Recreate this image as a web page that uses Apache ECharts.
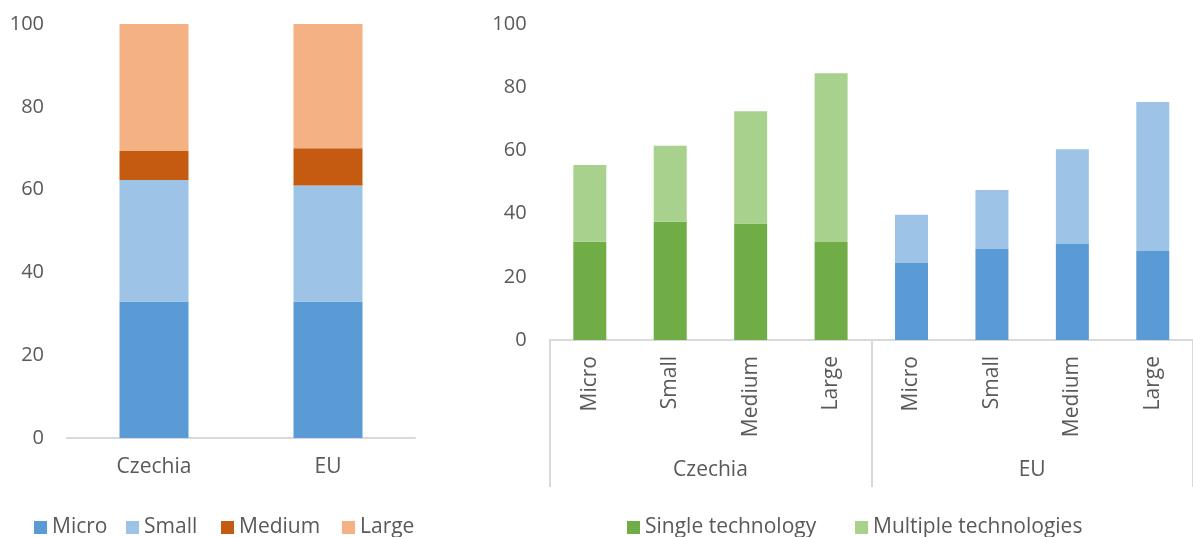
<!DOCTYPE html>
<html>
<head>
<meta charset="utf-8">
<script src="https://cdn.jsdelivr.net/npm/echarts@6/dist/echarts.min.js"></script>
<style>
  html, body { margin: 0; padding: 0; background: #fff; }
  #chart { width: 1193px; height: 537px; }
</style>
</head>
<body>
<div id="chart"></div>
<script>
// Left panel: share of enterprises by size class (stacked to 100)
const regions = ['Czechia', 'EU'];
const microShare = [33, 33];
const smallShare = [29.3, 28];
const mediumShare = [7, 9];
const largeShare = [30.7, 30];

// Right panel: adoption by size class, single vs multiple technologies
const sizeClasses = ['Micro', 'Small', 'Medium', 'Large'];
const czSingle = [31.1, 37.4, 36.9, 31.0];
const czMultiple = [24.3, 24.1, 35.5, 53.4];
const euSingle = [24.4, 28.8, 30.4, 28.2];
const euMultiple = [15.2, 18.7, 30.0, 47.1];

const yTicks = [0, 20, 40, 60, 80, 100];

const FONT = '"Open Sans", sans-serif';
const TXT = '#595959';
const AXIS = '#d9d9d9';
const LABEL_SIZE = 21;

const C = {
  micro: '#5b9bd5', small: '#9dc3e6', medium: '#c55a11', large: '#f4b183',
  single: '#70ad47', multiple: '#a9d18e'
};

const rightCats = sizeClasses.concat(sizeClasses);
const rightSingle = czSingle.map(v => ({ value: v }))
  .concat(euSingle.map(v => ({ value: v, itemStyle: { color: C.micro } })));
const rightMultiple = czMultiple.map(v => ({ value: v }))
  .concat(euMultiple.map(v => ({ value: v, itemStyle: { color: C.small } })));

const yAxisBase = (gridIndex, margin) => ({
  type: 'value', gridIndex, min: yTicks[0], max: yTicks[yTicks.length - 1],
  interval: yTicks[1] - yTicks[0],
  axisLine: { show: false }, axisTick: { show: false }, splitLine: { show: false },
  axisLabel: { color: TXT, fontFamily: FONT, fontSize: 20, margin }
});

// one legend entry per item so each swatch sits at its own spot
const legendItem = (name, left) => ({
  data: [name], left, top: 517, itemWidth: 13, itemHeight: 13,
  icon: 'rect', padding: 0,
  textStyle: { color: TXT, fontFamily: FONT, fontSize: LABEL_SIZE }
});

const chart = echarts.init(document.getElementById('chart'), null, { renderer: 'canvas' });
chart.setOption({
  animation: false,
  textStyle: { fontFamily: FONT },
  legend: [
    legendItem('Micro', 34),
    legendItem('Small', 126),
    legendItem('Medium', 221),
    legendItem('Large', 342),
    legendItem('Single technology', 627),
    legendItem('Multiple technologies', 855)
  ],
  grid: [
    { left: 67, top: 24, width: 348, height: 414 },
    { left: 549.6, top: 24, width: 650.4, height: 316 }
  ],
  xAxis: [
    {
      type: 'category', gridIndex: 0, data: regions,
      axisLine: { lineStyle: { color: AXIS, width: 2 } },
      axisTick: { show: false },
      axisLabel: { color: TXT, fontFamily: FONT, fontSize: LABEL_SIZE, margin: 19 }
    },
    {
      type: 'category', gridIndex: 1, data: rightCats,
      axisLine: { lineStyle: { color: AXIS, width: 2 } },
      axisTick: { show: false },
      axisLabel: { color: TXT, fontFamily: FONT, fontSize: LABEL_SIZE, rotate: 90, margin: 16 }
    },
    {
      type: 'category', gridIndex: 1, data: regions, position: 'bottom',
      axisLine: { show: false },
      axisTick: { show: true, length: 147, lineStyle: { color: AXIS, width: 2 } },
      axisLabel: { color: TXT, fontFamily: FONT, fontSize: LABEL_SIZE, margin: 120 }
    }
  ],
  yAxis: [yAxisBase(0, 23), yAxisBase(1, 23)],
  series: [
    { name: 'Micro', type: 'bar', stack: 'size', xAxisIndex: 0, yAxisIndex: 0, barWidth: 69, data: microShare, itemStyle: { color: C.micro } },
    { name: 'Small', type: 'bar', stack: 'size', xAxisIndex: 0, yAxisIndex: 0, barWidth: 69, data: smallShare, itemStyle: { color: C.small } },
    { name: 'Medium', type: 'bar', stack: 'size', xAxisIndex: 0, yAxisIndex: 0, barWidth: 69, data: mediumShare, itemStyle: { color: C.medium } },
    { name: 'Large', type: 'bar', stack: 'size', xAxisIndex: 0, yAxisIndex: 0, barWidth: 69, data: largeShare, itemStyle: { color: C.large } },
    { name: 'Single technology', type: 'bar', stack: 'tech', xAxisIndex: 1, yAxisIndex: 1, barWidth: 33, data: rightSingle, itemStyle: { color: C.single } },
    { name: 'Multiple technologies', type: 'bar', stack: 'tech', xAxisIndex: 1, yAxisIndex: 1, barWidth: 33, data: rightMultiple, itemStyle: { color: C.multiple } }
  ]
});
</script>
</body>
</html>
